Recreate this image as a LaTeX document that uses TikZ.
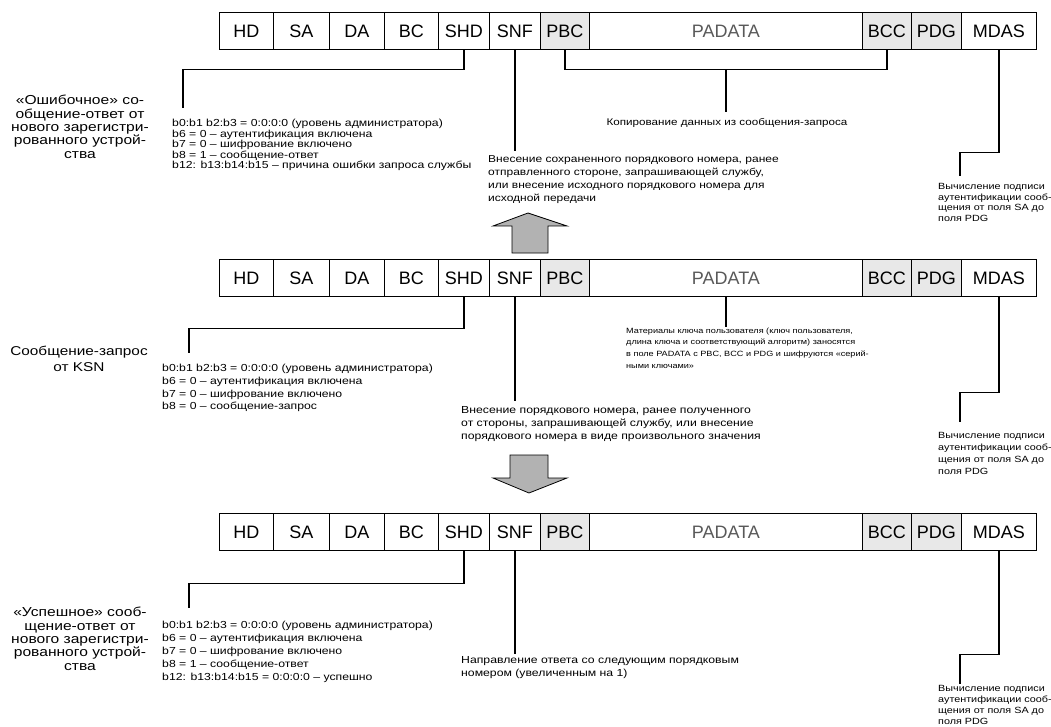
\documentclass[tikz,border=0pt]{standalone}
\usepackage{fontspec}
\setmainfont{Liberation Sans}
\newfontfamily\notefont{Liberation Sans}[FakeStretch=1.2]
\newcommand\msgframe[2]{%
  \foreach \nm/\xa/\xb/\lab/\fl/\tc in {hd/219/273/HD/white/black, sa/273/329/SA/white/black, da/329/384/DA/white/black, bc/384/438/BC/white/black, shd/438/489/SHD/white/black, snf/489/540/SNF/white/black, pbc/540/589/PBC/gray!18/black, padata/589/862/PADATA/white/gray!70!black, bcc/862/911/BCC/gray!18/black, pdg/911/961/PDG/gray!18/black, mdas/961/1036/MDAS/white/black}{%
    \node[cell, fill=\fl, text=\tc, minimum width={(\xb-\xa)*1pt}] (#1\nm) at (\xa,#2) {\lab};
  }}
\begin{document}
\begin{tikzpicture}[x=1pt,y=-1pt,
  cell/.style={draw, line width=0.8pt, minimum height=37pt, inner sep=0pt, anchor=north west, font=\fontsize{18}{18}\selectfont},
  link/.style={line width=1.3pt},
  note/.style={anchor=north west, align=left, inner sep=0pt},
  side/.style={anchor=north, align=center, inner sep=0pt, font=\notefont\fontsize{13}{13.4}\selectfont},
  blockarrow/.style={draw, line width=0.8pt, fill=gray!60}
]
\fill[white] (0,0) rectangle (1051,727);
\useasboundingbox (0,0) rectangle (1051,727);

% frames
\msgframe{a}{12}
\msgframe{b}{259}
\msgframe{c}{513}

% ---------- top ----------
\coordinate (a-shd-end) at (183,108);
\draw[link] (ashd.south) -- ++(0,20) -| (a-shd-end);
\draw[link] (asnf.south) -- ++(0,101) coordinate (a-snf-end);
\draw[link] (apbc.south) -- ++(0,20) -| (abcc.south);
\draw[link] (apadata.south) ++(0,20) -- ++(0,42) coordinate (a-pad-end);
\coordinate (a-mdas-end) at (960,176);
\draw[link] (amdas.south) -- ++(0,103) -| (a-mdas-end);

\node[side] (alabel) at (80,95) {«Ошибочное» со-\\общение-ответ от\\нового зарегистри-\\рованного устрой-\\ства};
\node[note, font=\notefont\fontsize{10.2}{10.6}\selectfont] (ashdtext) at (172,119) {b0:b1 b2:b3 = 0:0:0:0 (уровень администратора)\\b6 = 0 – аутентификация включена\\b7 = 0 – шифрование включено\\b8 = 1 – сообщение-ответ\\b12: b13:b14:b15 – причина ошибки запроса службы};
\node[anchor=north, inner sep=0pt, font=\notefont\fontsize{9.7}{11}\selectfont] (acopy) at (727,118.5) {Копирование данных из сообщения-запроса};
\node[note, font=\notefont\fontsize{10}{13}\selectfont] (asnftext) at (488,155.5) {Внесение сохраненного порядкового номера, ранее\\отправленного стороне, запрашивающей службу,\\или внесение исходного порядкового номера для\\исходной передачи};
\node[note, font=\notefont\fontsize{9}{10.8}\selectfont] (amdastext) at (938,183) {Вычисление подписи\\аутентификации сооб-\\щения от поля SA до\\поля PDG};

\draw[blockarrow] (512,253) -- (512,226) -- (493,226) -- (528,213) -- (567,226) -- (548,226) -- (548,253) -- cycle;

% ---------- middle ----------
\coordinate (b-shd-end) at (189,353);
\draw[link] (bshd.south) -- ++(0,32) -| (b-shd-end);
\draw[link] (bsnf.south) -- ++(0,104) coordinate (b-snf-end);
\draw[link] (bpadata.south) -- ++(0,30) coordinate (b-pad-end);
\coordinate (b-mdas-end) at (960,422);
\draw[link] (bmdas.south) -- ++(0,96) -| (b-mdas-end);

\node[side, font=\notefont\fontsize{12.8}{16}\selectfont] (blabel) at (79,346) {Сообщение-запрос\\от KSN};
\node[note, font=\notefont\fontsize{10.2}{12.6}\selectfont] (bshdtext) at (162,364.4) {b0:b1 b2:b3 = 0:0:0:0 (уровень администратора)\\b6 = 0 – аутентификация включена\\b7 = 0 – шифрование включено\\b8 = 0 – сообщение-запрос};
\node[note, font=\notefont\fontsize{7.6}{11.7}\selectfont] (bpadtext) at (626,327.5) {Материалы ключа пользователя (ключ пользователя,\\длина ключа и соответствующий алгоритм) заносятся\\в поле PADATA с PBC, BCC и PDG и шифруются «серий-\\ными ключами»};
\node[note, font=\notefont\fontsize{10.2}{12.8}\selectfont] (bsnftext) at (461,406.4) {Внесение порядкового номера, ранее полученного\\от стороны, запрашивающей службу, или внесение\\порядкового номера в виде произвольного значения};
\node[note, font=\notefont\fontsize{9}{12}\selectfont] (bmdastext) at (938,432) {Вычисление подписи\\аутентификации сооб-\\щения от поля SA до\\поля PDG};

\draw[blockarrow] (510,455) -- (548,455) -- (548,478) -- (567,478) -- (529,493) -- (493,478) -- (510,478) -- cycle;

% ---------- bottom ----------
\coordinate (c-shd-end) at (189,608);
\draw[link] (cshd.south) -- ++(0,33) -| (c-shd-end);
\draw[link] (csnf.south) -- ++(0,103) coordinate (c-snf-end);
\coordinate (c-mdas-end) at (960,684);
\draw[link] (cmdas.south) -- ++(0,104) -| (c-mdas-end);

\node[side] (clabel) at (80,607) {«Успешное» сооб-\\щение-ответ от\\нового зарегистри-\\рованного устрой-\\ства};
\node[note, font=\notefont\fontsize{10.2}{12.8}\selectfont] (cshdtext) at (162,621.4) {b0:b1 b2:b3 = 0:0:0:0 (уровень администратора)\\b6 = 0 – аутентификация включена\\b7 = 0 – шифрование включено\\b8 = 1 – сообщение-ответ\\b12: b13:b14:b15 = 0:0:0:0 – успешно};
\node[note, font=\notefont\fontsize{10.2}{12.8}\selectfont] (csnftext) at (461,656.4) {Направление ответа со следующим порядковым\\номером (увеличенным на 1)};
\node[note, font=\notefont\fontsize{9}{11}\selectfont] (cmdastext) at (938,685) {Вычисление подписи\\аутентификации сооб-\\щения от поля SA до\\поля PDG};
\end{tikzpicture}
\end{document}
